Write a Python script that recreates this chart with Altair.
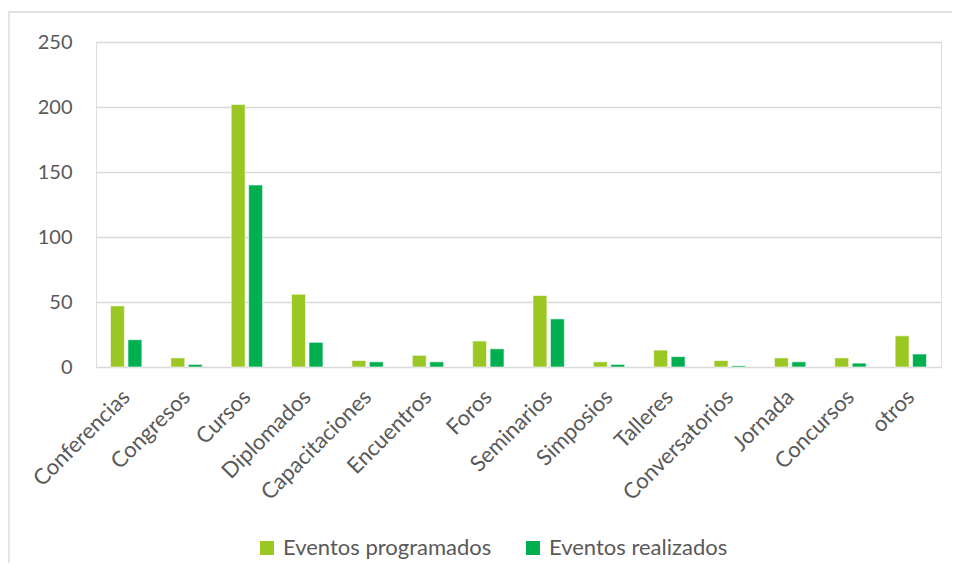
import altair as alt
import pandas as pd

categories = ["Conferencias", "Congresos", "Cursos", "Diplomados", "Capacitaciones",
              "Encuentros", "Foros", "Seminarios", "Simposios", "Talleres",
              "Conversatorios", "Jornada", "Concursos", "otros"]
programados = [47, 7, 202, 56, 5, 9, 20, 55, 4, 13, 5, 7, 7, 24]
realizados = [21, 2, 140, 19, 4, 4, 14, 37, 2, 8, 1, 4, 3, 10]
series = ["Eventos programados", "Eventos realizados"]
colors = ["#9BC724", "#00B050"]

rows = []
for c, p, r in zip(categories, programados, realizados):
    rows.append({"cat": c, "serie": series[0], "val": p})
    rows.append({"cat": c, "serie": series[1], "val": r})
df = pd.DataFrame(rows)

FONT = "Lato"
GRAY = "#595959"

bars = alt.Chart(df).mark_bar(stroke="white", strokeWidth=0.6).encode(
    x=alt.X("cat:N", sort=categories, title=None,
            scale=alt.Scale(paddingInner=0.48, paddingOuter=0.24),
            axis=alt.Axis(labelAngle=-45, labelFontSize=22, labelColor=GRAY,
                          labelFont=FONT, ticks=False, domainColor="#D9D9D9",
                          labelPadding=19, labelOffset=-7, labelAlign="right",
                          labelBaseline="top", labelLimit=300)),
    xOffset=alt.XOffset("serie:N", sort=series,
                        scale=alt.Scale(paddingInner=0.2, paddingOuter=0)),
    y=alt.Y("val:Q", title=None,
            scale=alt.Scale(domain=[0, 250], nice=False),
            axis=alt.Axis(values=[0, 50, 100, 150, 200, 250], labelFontSize=20,
                          labelColor=GRAY, labelFont=FONT, ticks=False, domain=False,
                          gridColor="#D9D9D9", gridWidth=1.3, labelPadding=24)),
    color=alt.Color("serie:N", sort=series,
                    scale=alt.Scale(domain=series, range=colors),
                    legend=alt.Legend(title=None, orient="none", direction="horizontal",
                                      legendX=160, legendY=495,
                                      symbolType="square", symbolSize=196,
                                      symbolStrokeWidth=0, labelFontSize=22,
                                      labelColor=GRAY, labelFont=FONT,
                                      columnPadding=30, labelOffset=5,
                                      labelLimit=400)),
)

border = alt.Chart(pd.DataFrame({"k": [0]})).mark_rect(
    fill=None, stroke="#D9D9D9", strokeWidth=1.3
).encode(
    x=alt.value(-87), x2=alt.value(900), y=alt.value(-30), y2=alt.value(600)
)

chart = alt.layer(border, bars).properties(
    width=845, height=325,
    autosize=alt.AutoSizeParams(type="none"),
    padding={"left": 88, "top": 34, "right": 11, "bottom": 196},
).configure_view(stroke=None).configure(background="white")

chart.save("out.html", embed_options={"renderer": "svg", "actions": False})
